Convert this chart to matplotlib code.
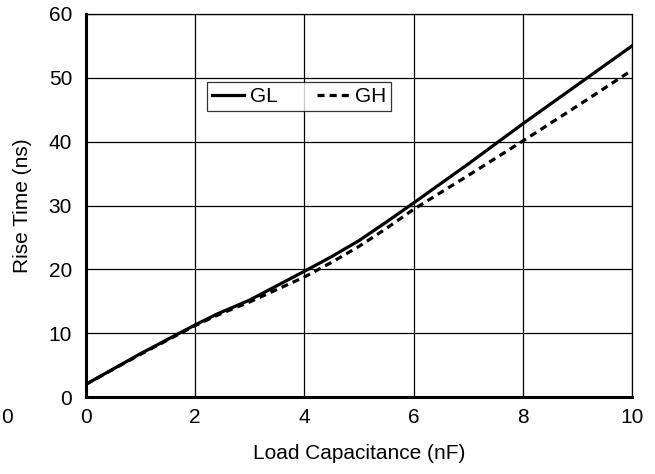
import matplotlib
matplotlib.use("Agg")
import matplotlib.pyplot as plt

plt.rcParams['font.family'] = ['Liberation Sans', 'DejaVu Sans']

# load capacitance (nF) vs rise time (ns)
cap_nf = [0, 1, 2, 2.4, 3, 4, 4.5, 5, 5.5, 6, 7, 8, 9, 10]
gl_ns = [2.0, 6.8, 11.3, 13.0, 15.2, 19.7, 22.0, 24.5, 27.4, 30.4, 36.5, 42.8, 48.9, 55.0]
gh_ns = [2.0, 6.7, 11.2, 12.8, 14.9, 18.8, 21.1, 23.6, 26.4, 29.4, 34.7, 40.1, 45.6, 51.2]

x_ticks = [0, 2, 4, 6, 8, 10]
y_ticks = [0, 10, 20, 30, 40, 50, 60]

fig = plt.figure(figsize=(6.55, 4.74), dpi=100)
ax = fig.add_axes([0.1313, 0.1624, 0.8336, 0.8081])

ax.plot(cap_nf, gl_ns, color='black', lw=2.3, label='GL', solid_joinstyle='round')
ax.plot(cap_nf, gh_ns, color='black', lw=2.3, dashes=(2.2, 1.6), label='GH')

ax.set_xlim(0, 10)
ax.set_ylim(0, 60)
ax.set_xticks(x_ticks)
ax.set_yticks(y_ticks)
ax.grid(True, color='black', lw=0.9)
ax.tick_params(length=0, labelsize=15)
ax.tick_params(axis='y', pad=10)
ax.tick_params(axis='x', pad=8)

for side in ['left', 'bottom']:
    ax.spines[side].set_linewidth(2.2)
for side in ['top', 'right']:
    ax.spines[side].set_linewidth(0.9)

ax.set_xlabel('Load Capacitance (nF)', fontsize=15, labelpad=12)
ax.set_ylabel('Rise Time (ns)', fontsize=15, labelpad=12)

leg = ax.legend(loc='upper left', bbox_to_anchor=(0.222, 0.823), ncol=2,
                fontsize=15, frameon=True, fancybox=False, borderpad=0.25,
                handlelength=1.5, handletextpad=0.3, columnspacing=1.9,
                borderaxespad=0)
leg.get_frame().set_edgecolor('black')
leg.get_frame().set_linewidth(0.9)

# stray tick label left over at the far left of the original figure
fig.text(0.011, 0.119, '0', fontsize=15, ha='center', va='center')

fig.savefig('out.png', dpi=100)
